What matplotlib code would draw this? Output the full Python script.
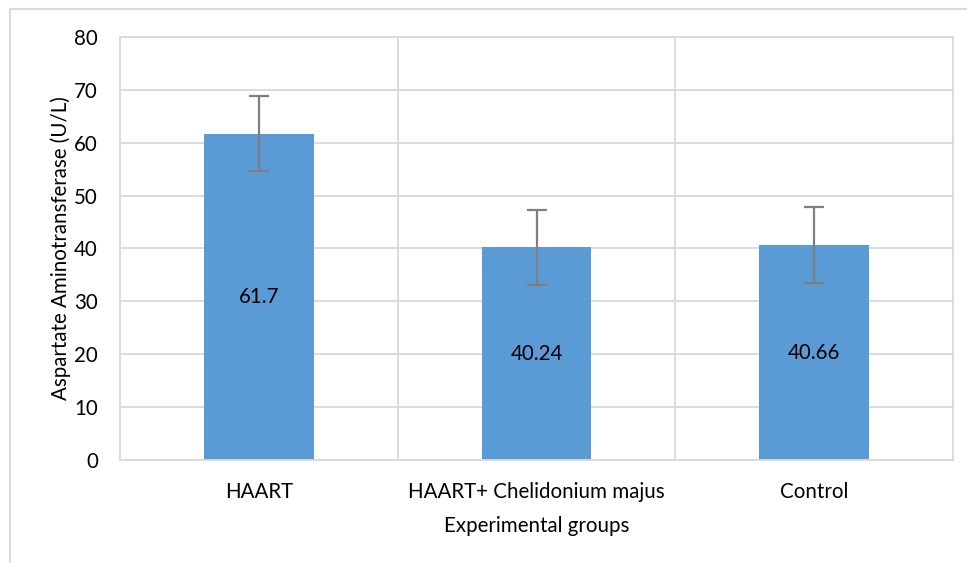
import numpy as np
import matplotlib
matplotlib.use("Agg")
import matplotlib.pyplot as plt
from matplotlib.patches import Rectangle

# data
groups = ["HAART", "HAART+ Chelidonium majus", "Control"]
ast_mean = [61.7, 40.24, 40.66]
ast_err = [7.1, 7.05, 7.1]
bar_labels = ["61.7", "40.24", "40.66"]

plt.rcParams["font.family"] = ["Lato", "DejaVu Sans"]
fs = 14.8

fig = plt.figure(figsize=(9.67, 5.63), dpi=100)
ax = fig.add_axes([120/967, 1-460/563, (953-120)/967, (460-37)/563])

grid_c = "#d9d9d9"
x = np.arange(len(groups))
ax.bar(x, ast_mean, width=0.396, color="#5b9bd5", zorder=2)
ax.errorbar(x, ast_mean, yerr=ast_err, fmt="none", ecolor="#7f7f7f",
            elinewidth=1.6, capsize=7, capthick=1.6, zorder=3)

for xi, v, t in zip(x, ast_mean, bar_labels):
    ax.text(xi, v/2, t, ha="center", va="center", fontsize=fs, color="black", zorder=4)

ax.set_xlim(-0.5, 2.5)
ax.set_ylim(0, 80)
ax.set_yticks(range(0, 81, 10))
ax.set_xticks(x)
ax.set_xticklabels(groups)
ax.tick_params(axis="both", length=0, labelsize=fs)
ax.tick_params(axis="y", pad=16)
ax.tick_params(axis="x", pad=16)

# horizontal grid plus vertical lines between categories
ax.grid(axis="y", color=grid_c, lw=1.3, zorder=0)
for b in [0.5, 1.5]:
    ax.axvline(b, color=grid_c, lw=1.3, zorder=0)
for s in ax.spines.values():
    s.set_color(grid_c)
    s.set_linewidth(1.3)

ax.set_xlabel("Experimental groups", fontsize=fs, labelpad=10)
ax.set_ylabel("Aspartate Aminotransferase (U/L)", fontsize=fs, labelpad=2)

# outer chart frame
fig.patches.append(Rectangle((10/967, -0.1), 1.1, 1.1 - 9/563,
                             transform=fig.transFigure, fill=False,
                             edgecolor=grid_c, lw=1.5))

fig.savefig("out.png", dpi=100)
